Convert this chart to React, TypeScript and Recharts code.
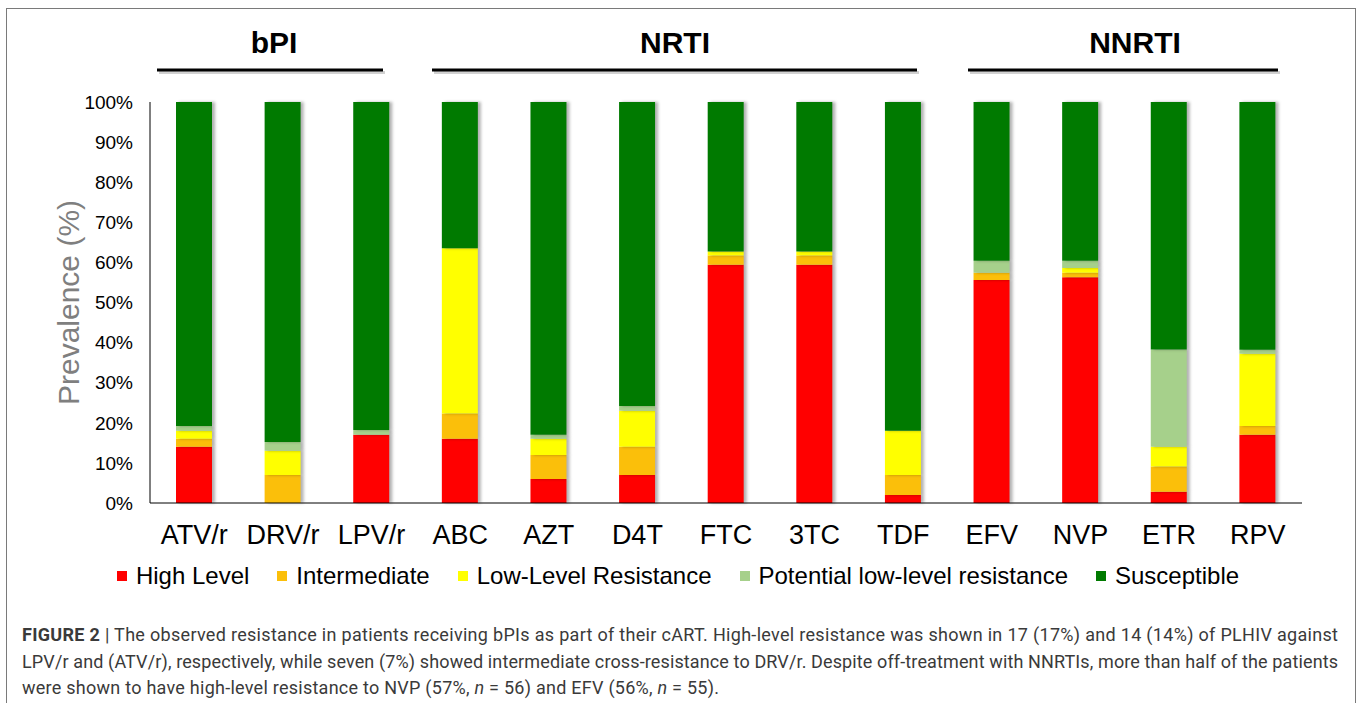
import { BarChart, Bar, XAxis, YAxis, Legend, Label } from 'recharts';

const drugs = ['ATV/r', 'DRV/r', 'LPV/r', 'ABC', 'AZT', 'D4T', 'FTC', '3TC', 'TDF', 'EFV', 'NVP', 'ETR', 'RPV'];
const highLevel = [14, 0, 17, 16, 6, 7, 59.4, 59.4, 2, 55.6, 56.3, 2.8, 17];
const intermediate = [2, 7, 0, 6.3, 6, 7, 2.3, 2.3, 5, 1.8, 1.1, 6.3, 2.2];
const lowLevel = [2, 6, 0, 41.2, 4, 9, 1, 1, 11, 0, 1.2, 4.9, 18];
const potentialLow = [1.2, 2.2, 1.2, 0, 1, 1.2, 0, 0, 0, 3, 1.8, 24.3, 1];
const susceptible = [80.8, 84.8, 81.8, 36.5, 83, 75.8, 37.3, 37.3, 82, 39.6, 39.6, 61.7, 61.8];

const yTicks = [0, 10, 20, 30, 40, 50, 60, 70, 80, 90, 100];

const series = [
  { key: 'high', name: 'High Level', color: '#ff0000' },
  { key: 'inter', name: 'Intermediate', color: '#fbbf0a' },
  { key: 'low', name: 'Low-Level Resistance', color: '#ffff00' },
  { key: 'potential', name: 'Potential low-level resistance', color: '#a6d08b' },
  { key: 'susc', name: 'Susceptible', color: '#007a00' },
];

// drug-class brackets drawn above the bars
const groups = [
  { label: 'bPI', x1: 157, x2: 383, cx: 274 },
  { label: 'NRTI', x1: 432, x2: 917, cx: 675 },
  { label: 'NNRTI', x1: 968, x2: 1278, cx: 1135 },
];

const data = drugs.map((d, i) => ({
  name: d,
  high: highLevel[i],
  inter: intermediate[i],
  low: lowLevel[i],
  potential: potentialLow[i],
  susc: susceptible[i],
}));

const FONT = "Arial, 'Liberation Sans', sans-serif";

function LegendContent() {
  return (
    <div style={{ display: 'flex', justifyContent: 'center', alignItems: 'center', height: 30, paddingLeft: 54, fontFamily: FONT, fontSize: 24, color: '#000' }}>
      {series.map(s => (
        <div key={s.key} style={{ display: 'flex', alignItems: 'center', margin: '0 14px' }}>
          <span style={{ width: 10, height: 10, background: s.color, marginRight: 9, display: 'inline-block' }} />
          <span>{s.name}</span>
        </div>
      ))}
    </div>
  );
}

export default function App() {
  return (
    <div style={{ position: 'relative', width: 1358, height: 703, overflow: 'hidden', background: '#fff' }}>
      <style>{`html,body{margin:0;overflow:hidden;} .recharts-bar-rectangle path{filter:drop-shadow(3px 0px 1.5px rgba(0,0,0,0.3));}`}</style>
      <div style={{ position: 'absolute', left: 6, top: 8, width: 1348, height: 760, border: '1px solid #7a7a7a' }} />

      <svg width={1358} height={100} style={{ position: 'absolute', left: 0, top: 0 }}>
        {groups.map(g => (
          <g key={g.label}>
            <text x={g.cx} y={53} textAnchor="middle" fontFamily={FONT} fontWeight="bold" fontSize={30} fill="#000">{g.label}</text>
            <line x1={g.x1 + 2} x2={g.x2 + 2} y1={72.5} y2={72.5} stroke="rgba(0,0,0,0.18)" strokeWidth={3} />
            <line x1={g.x1} x2={g.x2} y1={70} y2={70} stroke="#000" strokeWidth={3} />
          </g>
        ))}
      </svg>

      <div style={{ position: 'absolute', left: 0, top: 0 }}>
        <BarChart width={1358} height={591} data={data} margin={{ top: 102, right: 56, left: 0, bottom: 0 }}>
          <XAxis
            dataKey="name"
            height={58}
            axisLine={{ stroke: '#000', strokeWidth: 1 }}
            tickLine={false}
            tickSize={0}
            tickMargin={22}
            tick={{ fontSize: 27, fill: '#000', fontFamily: FONT }}
            interval={0}
          />
          <YAxis
            width={150}
            domain={[0, 100]}
            ticks={yTicks}
            tickFormatter={v => `${v}%`}
            axisLine={{ stroke: '#000', strokeWidth: 1 }}
            tickLine={false}
            tickSize={0}
            tickMargin={17}
            tick={{ fontSize: 19, fill: '#000', fontFamily: FONT }}
          >
            <Label value="Prevalence (%)" angle={-90} position="center" dx={-7} style={{ fontSize: 30, fill: '#7f7f7f', fontFamily: FONT }} />
          </YAxis>
          <Legend verticalAlign="bottom" height={30} content={<LegendContent />} />
          {series.map(s => (
            <Bar key={s.key} dataKey={s.key} name={s.name} stackId="a" fill={s.color} barSize={36} isAnimationActive={false} />
          ))}
        </BarChart>
      </div>

      <svg width={1358} height={90} style={{ position: 'absolute', left: 0, top: 613 }} fontFamily="Roboto, sans-serif" fontSize={18} fill="#3a3a3a">
        <text x={22} y={28} textLength={1316} lengthAdjust="spacing">
          <tspan fontWeight="bold">FIGURE 2</tspan> | The observed resistance in patients receiving bPIs as part of their cART. High-level resistance was shown in 17 (17%) and 14 (14%) of PLHIV against
        </text>
        <text x={22} y={54.5} textLength={1316} lengthAdjust="spacing">
          LPV/r and (ATV/r), respectively, while seven (7%) showed intermediate cross-resistance to DRV/r. Despite off-treatment with NNRTIs, more than half of the patients
        </text>
        <text x={22} y={81} textLength={697} lengthAdjust="spacing">
          were shown to have high-level resistance to NVP (57%, <tspan fontStyle="italic">n</tspan> = 56) and EFV (56%, <tspan fontStyle="italic">n</tspan> = 55).
        </text>
      </svg>
    </div>
  );
}
